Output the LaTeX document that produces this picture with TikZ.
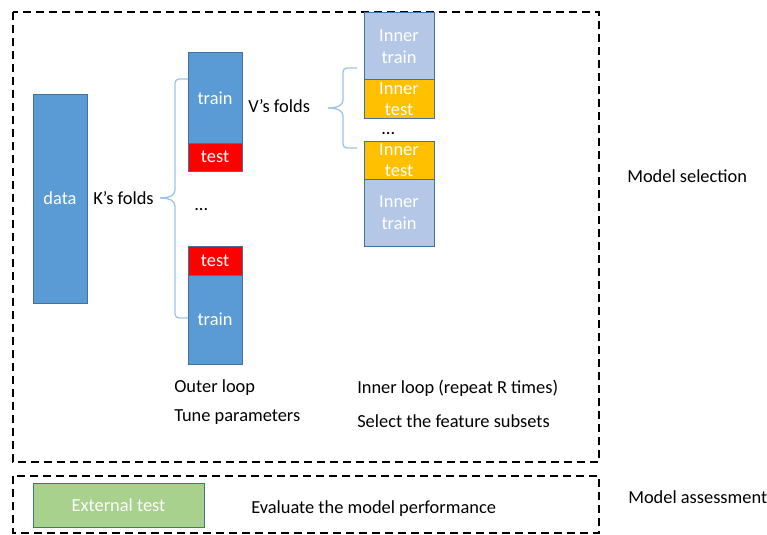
\documentclass[tikz,border=0pt]{standalone}
\usepackage{fontspec}
\setmainfont{Carlito}
\definecolor{blu}{HTML}{5B9BD5}
\definecolor{bord}{HTML}{41719C}
\definecolor{itr}{HTML}{B4C7E7}
\definecolor{ite}{HTML}{FFC000}
\definecolor{grn}{HTML}{A9D18E}
\definecolor{brc}{HTML}{9DC3E6}
\begin{document}
\begin{tikzpicture}[x=0.75pt,y=-0.75pt,
  blk/.style={draw=bord,line width=0.75pt,text=white,align=center,inner sep=0pt,font=\fontsize{13.8}{15}\selectfont},
  txt/.style={anchor=west,inner sep=0pt,font=\fontsize{13.8}{15}\selectfont},
  dbox/.style={draw=black,line width=1.3pt,dash pattern=on 6pt off 3.75pt},
  brace/.style={draw=brc,line width=1pt,rounded corners=3pt}]
\useasboundingbox (0,0) rectangle (767,535);
\draw[dbox] (13,12) rectangle (599,462);
\draw[dbox] (13,476) rectangle (599,533);
% data
\node[blk,fill=blu,minimum width=40.5pt,minimum height=156.75pt] (data) at (60,198.5) {data};
% outer folds
\node[blk,fill=blu,minimum width=40.5pt,minimum height=67.5pt] (tr1) at (215,98) {train};
\node[blk,fill=red,minimum width=40.5pt,minimum height=21pt] (te1) at (215,157) {test};
\node[blk,fill=red,minimum width=40.5pt,minimum height=21.75pt] (te2) at (215,260.5) {test};
\node[blk,fill=blu,minimum width=40.5pt,minimum height=66.75pt] (tr2) at (215,319.5) {train};
% inner folds
\node[blk,fill=itr,minimum width=52.5pt,minimum height=50.25pt] (itr1) at (399,46.5) {Inner\\[1pt]train};
\node[blk,fill=ite,minimum width=52.5pt,minimum height=28.5pt] (ite1) at (399,99) {Inner\\[1pt]test};
\node[blk,fill=ite,minimum width=52.5pt,minimum height=28.5pt] (ite2) at (399,160) {Inner\\[1pt]test};
\node[blk,fill=itr,minimum width=52.5pt,minimum height=50.25pt] (itr2) at (399,212.5) {Inner\\[1pt]train};
% braces
\draw[brace] (188,79) -- (175,79) -- (175,194) -- (167,198) -- (160,198);
\draw[brace] (188,318) -- (175,318) -- (175,202) -- (167,198) -- (160,198);
\draw[brace] (357,68) -- (343,68) -- (343,104) -- (335,108) -- (328,108);
\draw[brace] (357,148) -- (343,148) -- (343,112) -- (335,108) -- (328,108);
% labels
\node[txt] (kf) at (93,198) {K’s folds};
\node[txt] (vf) at (248,106) {V’s folds};
\node[txt] (d1) at (194,210) {...};
\node[txt,anchor=base west,text height=2pt,text depth=0pt] (d2) at (381,134) {...};
\node[txt] (ol) at (174,388) {Outer loop};
\node[txt] (tp) at (174,417) {Tune parameters};
\node[txt] (il) at (357,388) {Inner loop (repeat R times)};
\node[txt] (sf) at (357,421) {Select the feature subsets};
\node[txt] (ms) at (627,176) {Model selection};
\node[txt] (ma) at (628,497) {Model assessment};
% external
\node[blk,fill=grn,minimum width=128.25pt,minimum height=33pt] (ext) at (118.5,505) {External test};
\node[txt] (ev) at (251,509) {Evaluate the model performance};
\end{tikzpicture}
\end{document}
